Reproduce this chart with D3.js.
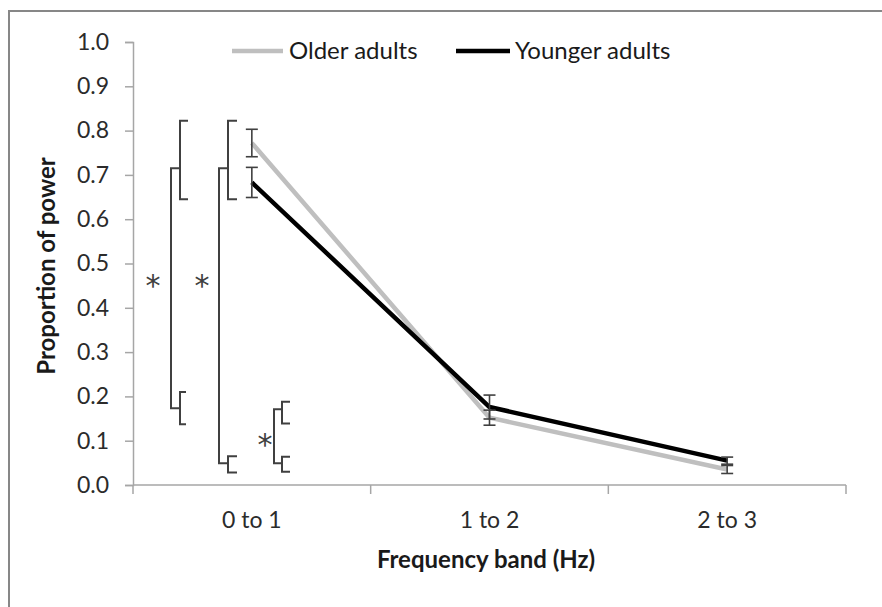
<!DOCTYPE html>
<html>
<head>
<meta charset="utf-8">
<script src="https://cdn.jsdelivr.net/npm/d3@7"></script>
<style>
  html, body { margin: 0; padding: 0; background: #fff; }
  svg { display: block; font-family: Lato, "Open Sans", sans-serif; }
</style>
</head>
<body>
<svg id="chart" width="882" height="607"></svg>
<script>
// Frequency bands on the x axis
const bands = ["0 to 1", "1 to 2", "2 to 3"];
// Mean proportion of power per band, with error bar half-widths
const olderMeans = [0.772, 0.152, 0.035];
const olderErr = [0.031, 0.017, 0.009];
const youngerMeans = [0.683, 0.176, 0.055];
const youngerErr = [0.034, 0.027, 0.008];
const seriesNames = ["Older adults", "Younger adults"];
const yTicks = [0, 0.1, 0.2, 0.3, 0.4, 0.5, 0.6, 0.7, 0.8, 0.9, 1.0];
// Significance brackets: two compared ranges, where the joining line ends, and the star level
const sigUpper = [[0.645, 0.822], [0.645, 0.822], [0.139, 0.188]];
const sigLower = [[0.137, 0.21], [0.028, 0.065], [0.030, 0.064]];
const sigJoin = [[0.715, 0.173], [0.715, 0.049], [0.171, 0.049]];
const sigStar = [0.456, 0.456, 0.098];

const svg = d3.select("#chart");
const plotLeft = 133, plotRight = 846, plotTop = 42, plotBottom = 485;

const x = d3.scaleBand().domain(bands).range([plotLeft, plotRight]);
const y = d3.scaleLinear().domain([0, 1]).range([plotBottom, plotTop]);

const axisColor = "#a6a6a6";
const textColor = "#2b2b2b";
const markColor = "#404040";

// outer frame
svg.append("rect")
  .attr("x", 9).attr("y", 11).attr("width", 900).attr("height", 700)
  .attr("fill", "none").attr("stroke", "#878787").attr("stroke-width", 2);

// y axis
const yAxis = svg.append("g").attr("transform", `translate(${plotLeft},0)`)
  .call(d3.axisLeft(y).tickValues(yTicks).tickFormat(d3.format(".1f")).tickSize(8).tickPadding(16));
yAxis.select(".domain").attr("stroke", axisColor).attr("stroke-width", 1.5);
yAxis.selectAll(".tick line").attr("stroke", axisColor).attr("stroke-width", 1.5);
yAxis.selectAll(".tick text").attr("fill", textColor).attr("font-size", 23)
  .attr("font-family", "Lato, sans-serif");

// x axis: labels at band centres, tick marks at band edges
const xAxis = svg.append("g").attr("transform", `translate(0,${plotBottom})`)
  .call(d3.axisBottom(x).tickSize(0).tickPadding(27));
xAxis.select(".domain").remove();
xAxis.selectAll(".tick text").attr("fill", textColor).attr("font-size", 23)
  .attr("font-family", "Lato, sans-serif");
svg.append("line")
  .attr("x1", plotLeft).attr("x2", plotRight).attr("y1", plotBottom).attr("y2", plotBottom)
  .attr("stroke", axisColor).attr("stroke-width", 1.5);
const edges = bands.map(b => x(b)).concat([x(bands[bands.length - 1]) + x.step()]);
svg.append("g").selectAll("line").data(edges).join("line")
  .attr("x1", d => d).attr("x2", d => d)
  .attr("y1", plotBottom).attr("y2", plotBottom + 9)
  .attr("stroke", axisColor).attr("stroke-width", 1.5);

// axis titles
svg.append("text")
  .attr("x", 486).attr("y", 568).attr("text-anchor", "middle")
  .attr("font-size", 24).attr("font-weight", "bold").attr("fill", "#1a1a1a")
  .text("Frequency band (Hz)");
svg.append("text")
  .attr("transform", "translate(55,266) rotate(-90)").attr("text-anchor", "middle")
  .attr("font-size", 24).attr("font-weight", "bold").attr("fill", "#1a1a1a")
  .text("Proportion of power");

// series lines
const cx = b => x(b) + x.bandwidth() / 2;
const line = d3.line().x(d => cx(d.band)).y(d => y(d.v));
const series = [
  { means: olderMeans, err: olderErr, color: "#bfbfbf" },
  { means: youngerMeans, err: youngerErr, color: "#000000" }
];
series.forEach(s => {
  const pts = bands.map((b, i) => ({ band: b, v: s.means[i] }));
  svg.append("path").datum(pts).attr("d", line)
    .attr("fill", "none").attr("stroke", s.color).attr("stroke-width", 4.5)
    .attr("stroke-linejoin", "round");
});

// error bars
series.forEach(s => {
  const g = svg.append("g").attr("stroke", markColor).attr("stroke-width", 1.6);
  bands.forEach((b, i) => {
    const xc = cx(b), hi = y(s.means[i] + s.err[i]), lo = y(s.means[i] - s.err[i]);
    g.append("line").attr("x1", xc).attr("x2", xc).attr("y1", hi).attr("y2", lo);
    g.append("line").attr("x1", xc - 6).attr("x2", xc + 6).attr("y1", hi).attr("y2", hi);
    g.append("line").attr("x1", xc - 6).attr("x2", xc + 6).attr("y1", lo).attr("y2", lo);
  });
});

// significance brackets
const bracketX = [{ join: 171, small: 180, capU: 188, capL: 186, star: 153 },
                  { join: 219, small: 228, capU: 237, capL: 237, star: 202 },
                  { join: 274, small: 282, capU: 290, capL: 290, star: 265 }];
const bg = svg.append("g").attr("stroke", markColor).attr("stroke-width", 2).attr("fill", "none");
sigJoin.forEach((j, i) => {
  const p = bracketX[i];
  const yTop = y(j[0]), yBot = y(j[1]);
  const u = sigUpper[i], l = sigLower[i];
  bg.append("path").attr("d",
    `M${p.small},${yTop}H${p.join}V${yBot}H${p.small}`);
  bg.append("path").attr("d",
    `M${p.capU},${y(u[1])}H${p.small}V${y(u[0])}H${p.capU}`);
  bg.append("path").attr("d",
    `M${p.capL},${y(l[1])}H${p.small}V${y(l[0])}H${p.capL}`);
  svg.append("text").attr("x", p.star).attr("y", y(sigStar[i]) + 13)
    .attr("text-anchor", "middle").attr("font-size", 30)
    .attr("font-family", "'DejaVu Sans', sans-serif").attr("fill", markColor)
    .text("*");
});

// legend
const legendItems = [
  { name: seriesNames[0], color: "#bfbfbf", x1: 232, x2: 283, tx: 289 },
  { name: seriesNames[1], color: "#000000", x1: 456, x2: 510, tx: 515 }
];
legendItems.forEach(d => {
  svg.append("line").attr("x1", d.x1).attr("x2", d.x2).attr("y1", 51).attr("y2", 51)
    .attr("stroke", d.color).attr("stroke-width", 4.5);
  svg.append("text").attr("x", d.tx).attr("y", 59).attr("font-size", 24)
    .attr("fill", "#1a1a1a").text(d.name);
});
</script>
</body>
</html>
